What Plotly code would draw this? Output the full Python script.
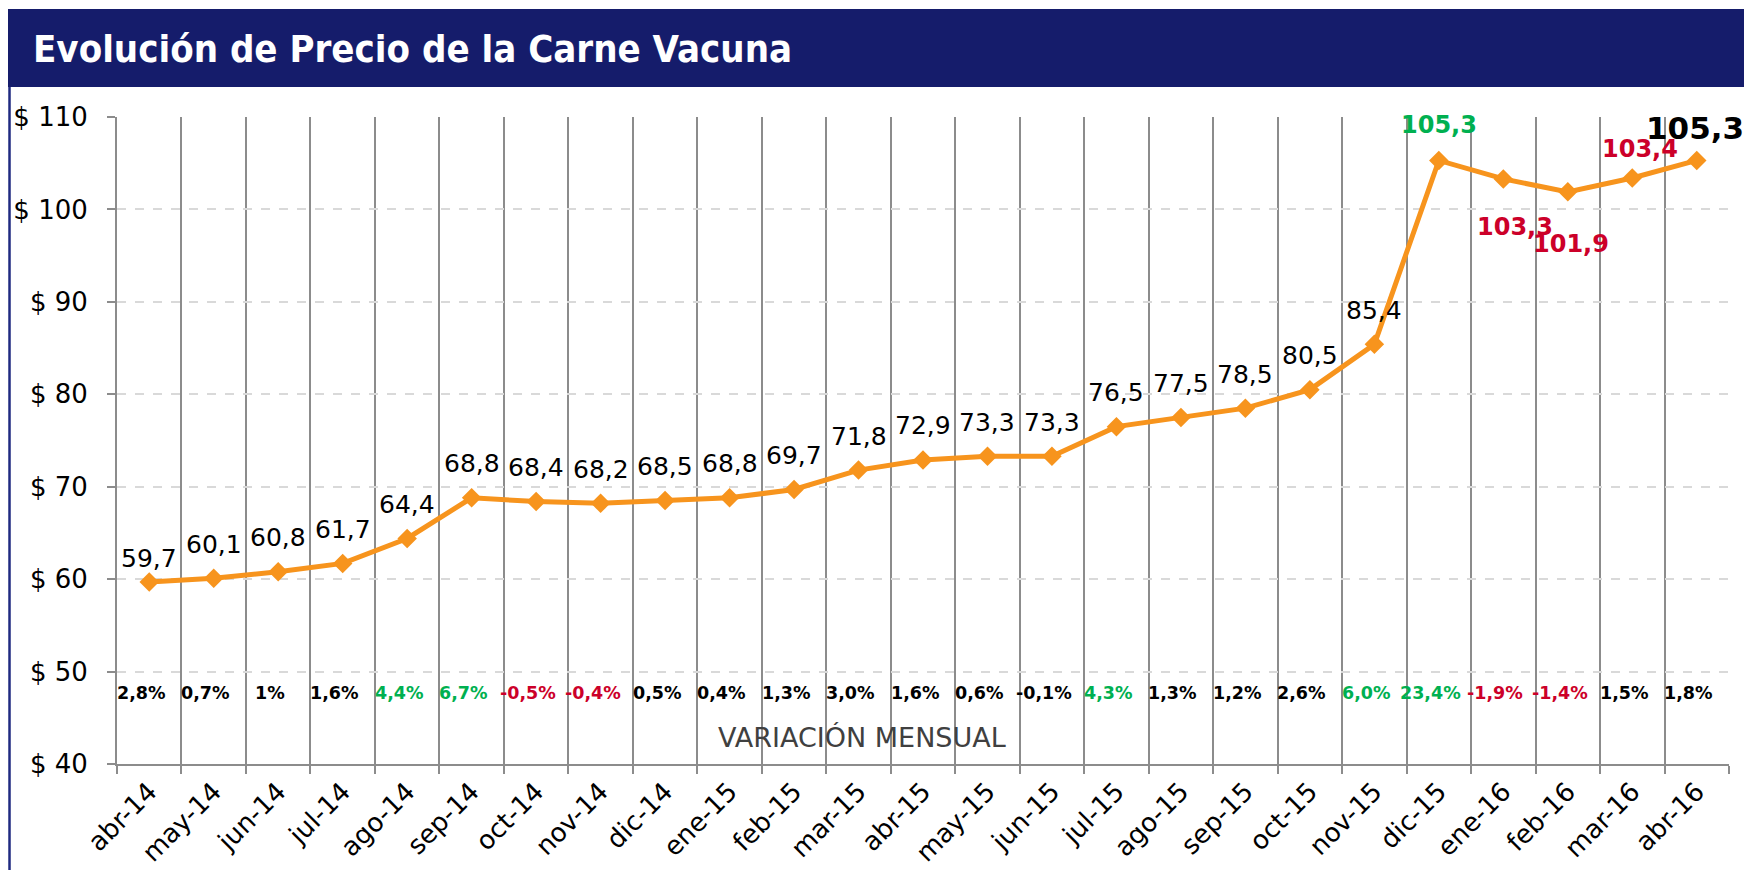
import plotly.graph_objects as go

# ---------------- data ----------------
meses = ["abr-14", "may-14", "jun-14", "jul-14", "ago-14", "sep-14", "oct-14", "nov-14",
         "dic-14", "ene-15", "feb-15", "mar-15", "abr-15", "may-15", "jun-15", "jul-15",
         "ago-15", "sep-15", "oct-15", "nov-15", "dic-15", "ene-16", "feb-16", "mar-16",
         "abr-16"]
precio = [59.7, 60.1, 60.8, 61.7, 64.4, 68.8, 68.4, 68.2, 68.5, 68.8, 69.7, 71.8, 72.9,
          73.3, 73.3, 76.5, 77.5, 78.5, 80.5, 85.4, 105.3, 103.3, 101.9, 103.4, 105.3]
variacion = ["2,8%", "0,7%", "1%", "1,6%", "4,4%", "6,7%", "-0,5%", "-0,4%", "0,5%",
             "0,4%", "1,3%", "3,0%", "1,6%", "0,6%", "-0,1%", "4,3%", "1,3%", "1,2%",
             "2,6%", "6,0%", "23,4%", "-1,9%", "-1,4%", "1,5%", "1,8%"]
# tone of each monthly variation label: n = neutral, g = green, r = red
tono_variacion = ["n", "n", "n", "n", "g", "g", "r", "r", "n", "n", "n", "n", "n", "n",
                  "n", "g", "n", "n", "n", "g", "g", "r", "r", "n", "n"]
# style of each price label
estilo_precio = ["low"] + ["n"] * 19 + ["g_up", "r_down", "r_down2", "r_up", "big"]

# ---------------- style ----------------
W, H = 1744, 870
L, R, T, B = 117, 1729, 117, 764
ORANGE = "#F7941D"
NAVY = "#151C6B"
GREEN = "#00B050"
RED = "#CC0029"
BLACK = "#000000"
GRID_V = "#8C8C8C"
GRID_H = "#D9D9D9"
FONT = "DejaVu Sans"
tone_color = {"n": BLACK, "g": GREEN, "r": RED}

def px_x(p):
    return (p - L) / (R - L)

def px_y(p):
    return (B - p) / (B - T)

def fmt(v):
    return f"{v:.1f}".replace(".", ",")

fig = go.Figure()
fig.add_trace(go.Scatter(
    x=meses, y=precio, mode="lines+markers",
    line=dict(color=ORANGE, width=5),
    marker=dict(symbol="diamond", size=15, color=ORANGE),
    hoverinfo="skip", cliponaxis=False, showlegend=False,
))

annotations = []
# price labels
label_cfg = {
    "n": dict(color=BLACK, size=25, bold=False, xs=0, ys=34),
    "low": dict(color=BLACK, size=25, bold=False, xs=0, ys=23),
    "g_up": dict(color=GREEN, size=24, bold=True, xs=0, ys=35),
    "r_down": dict(color=RED, size=24, bold=True, xs=12, ys=-48),
    "r_down2": dict(color=RED, size=24, bold=True, xs=3, ys=-52),
    "r_up": dict(color=RED, size=24, bold=True, xs=8, ys=29),
    "big": dict(color=BLACK, size=31, bold=True, xs=-2, ys=32),
}
for m, v, st in zip(meses, precio, estilo_precio):
    c = label_cfg[st]
    txt = fmt(v)
    if c["bold"]:
        txt = f"<b>{txt}</b>"
    annotations.append(dict(
        x=m, y=v, xref="x", yref="y", text=txt, showarrow=False,
        xanchor="center", yanchor="middle", xshift=c["xs"], yshift=c["ys"],
        font=dict(family=FONT, size=c["size"], color=c["color"]),
    ))

# monthly variation row
for m, t, tn in zip(meses, variacion, tono_variacion):
    annotations.append(dict(
        x=m, y=px_y(693), xref="x", yref="paper", text=f"<b>{t}</b>", showarrow=False,
        xanchor="center", yanchor="middle", xshift=-8,
        font=dict(family=FONT, size=17.5, color=tone_color[tn]),
    ))

annotations.append(dict(
    x=px_x(862), y=px_y(737), xref="paper", yref="paper", text="VARIACIÓN MENSUAL",
    showarrow=False, xanchor="center", yanchor="middle",
    font=dict(family=FONT, size=27, color="#404040"),
))

# title
annotations.append(dict(
    x=px_x(31), y=px_y(49), xref="paper", yref="paper",
    text="<b>Evolución de Precio de la Carne Vacuna</b>", showarrow=False,
    xanchor="left", yanchor="middle",
    font=dict(family="DejaVu Sans Condensed, DejaVu Sans", size=38, color="white"),
))

shapes = [
    dict(type="rect", xref="paper", yref="paper",
         x0=px_x(8), x1=px_x(W + 20), y0=px_y(9), y1=px_y(87),
         fillcolor=NAVY, line=dict(width=0), layer="above"),
    dict(type="line", xref="paper", yref="paper",
         x0=px_x(9.5), x1=px_x(9.5), y0=px_y(87), y1=px_y(H + 10),
         line=dict(color="#1F2A80", width=2.5)),
]

fig.update_layout(
    width=W, height=H, autosize=False,
    margin=dict(l=L, r=W - R, t=T, b=H - B, pad=0),
    paper_bgcolor="white", plot_bgcolor="white",
    font=dict(family=FONT, color=BLACK),
    annotations=annotations, shapes=shapes,
    xaxis=dict(
        type="category", range=[-0.5, len(meses) - 0.5], tickson="boundaries",
        showgrid=True, gridcolor=GRID_V, gridwidth=2,
        ticks="outside", ticklen=8, tickwidth=2, tickcolor=GRID_V,
        showline=True, linecolor=GRID_V, linewidth=2,
        tickangle=-45, tickfont=dict(family=FONT, size=26, color=BLACK),
        automargin=False, zeroline=False, fixedrange=True,
    ),
    yaxis=dict(
        range=[40, 110], tick0=40, dtick=10, tickprefix="$ ",
        showgrid=True, gridcolor=GRID_H, gridwidth=1.5, griddash="dash",
        ticks="outside", ticklen=8, tickwidth=2, tickcolor=GRID_V,
        showline=True, linecolor=GRID_V, linewidth=2,
        tickfont=dict(family=FONT, size=26, color=BLACK),
        ticklabelstandoff=14,
        automargin=False, zeroline=False, fixedrange=True,
    ),
)

fig.write_html(
    "out.html",
    config={"displayModeBar": False},
    post_script="document.body.style.margin='0';document.body.style.overflow='hidden';",
)
